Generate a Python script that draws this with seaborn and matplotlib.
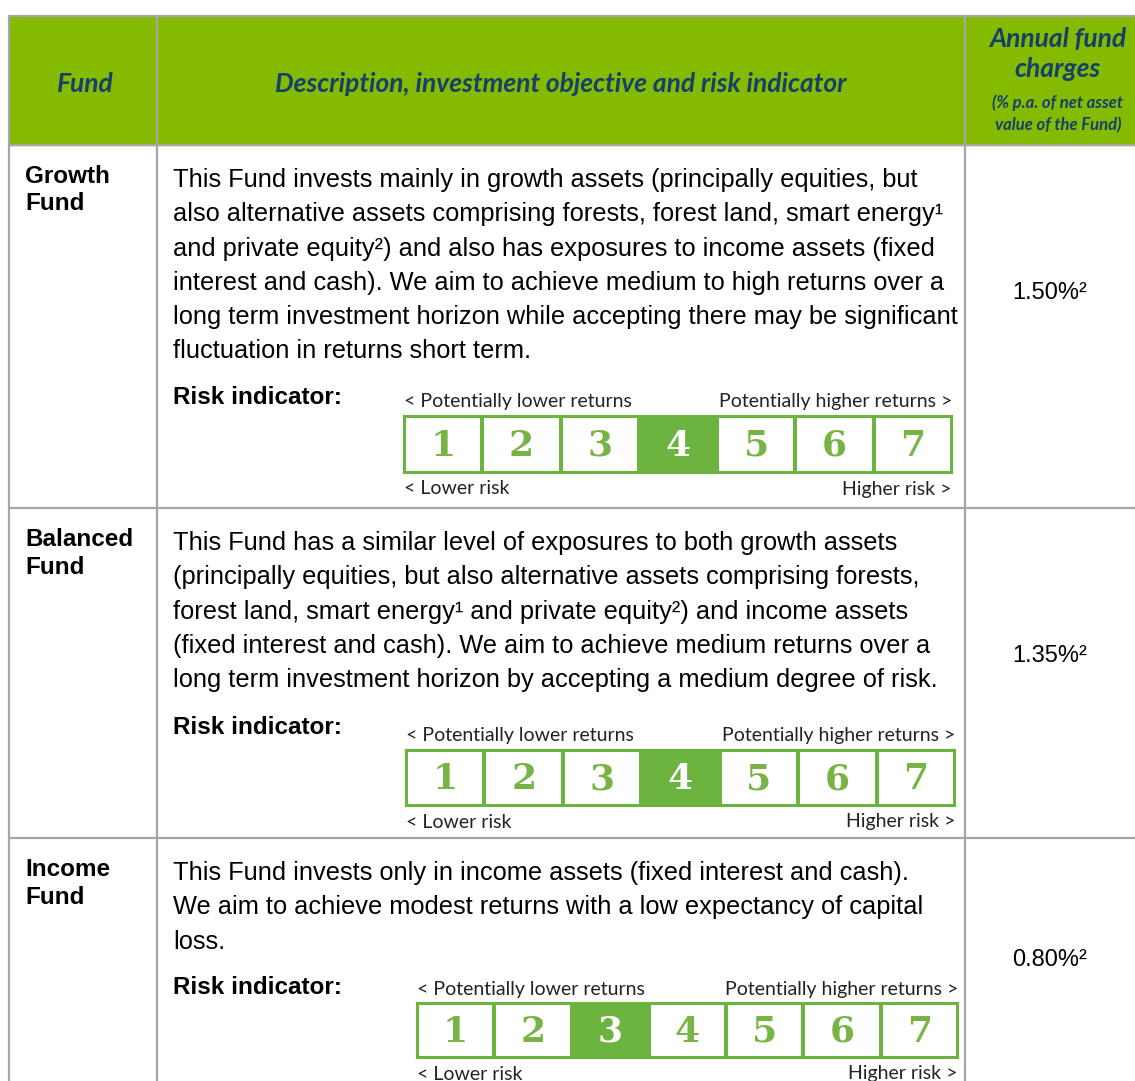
import numpy as np
import matplotlib
matplotlib.use("Agg")
import matplotlib.pyplot as plt
from matplotlib.colors import ListedColormap
import seaborn as sns

# 표 데이터
funds = ["Growth\nFund", "Balanced\nFund", "Income\nFund"]
descriptions = [
    ["This Fund invests mainly in growth assets (principally equities, but",
     "also alternative assets comprising forests, forest land, smart energy¹",
     "and private equity²) and also has exposures to income assets (fixed",
     "interest and cash). We aim to achieve medium to high returns over a",
     "long term investment horizon while accepting there may be significant",
     "fluctuation in returns short term."],
    ["This Fund has a similar level of exposures to both growth assets",
     "(principally equities, but also alternative assets comprising forests,",
     "forest land, smart energy¹ and private equity²) and income assets",
     "(fixed interest and cash). We aim to achieve medium returns over a",
     "long term investment horizon by accepting a medium degree of risk."],
    ["This Fund invests only in income assets (fixed interest and cash).",
     "We aim to achieve modest returns with a low expectancy of capital",
     "loss."],
]
charges = ["1.50%²", "1.35%²", "0.80%²"]
risk_levels = [4, 4, 3]
risk_scale = [1, 2, 3, 4, 5, 6, 7]

# 레이아웃 (픽셀)
W, H = 1135, 1081
row_tops = [145, 508, 838]
text_top = [180, 543, 873]
risk_label_y = [398, 727, 988]
charge_y = [293, 656, 960]
risk_box = [(404, 416, 548, 57), (406, 750, 549, 56), (417, 1003, 541, 55)]

green_head = "#84BA00"
navy = "#173F6B"
grid_col = "#A6A6A6"
risk_green = "#6CB33F"
num_green = "#78B445"

sns.set_theme(style="white")
plt.rcParams['font.family'] = ['Liberation Sans', 'DejaVu Sans']

fig = plt.figure(figsize=(W / 100, H / 100), dpi=100)
ax = fig.add_axes([0, 0, 1, 1])
ax.set_xlim(0, W)
ax.set_ylim(H, 0)
ax.axis('off')

# 헤더 배경
ax.add_patch(plt.Rectangle((9, 16), W - 9, 129, color=green_head, zorder=0))

# 격자선
for y in [16] + row_tops:
    ax.plot([9, W], [y, y], color=grid_col, lw=1.6, zorder=2)
for x in [9, 157, 965]:
    ax.plot([x, x], [16, H], color=grid_col, lw=1.6, zorder=2)

# 헤더 텍스트
hfont = dict(family=['Lato', 'DejaVu Sans'], style='italic', weight='bold', color=navy)
ax.text(85, 84, "Fund", ha='center', va='center', fontsize=19, **hfont)
ax.text(561, 84, "Description, investment objective and risk indicator",
        ha='center', va='center', fontsize=19, **hfont)
ax.text(1058, 39, "Annual fund", ha='center', va='center', fontsize=19, **hfont)
ax.text(1058, 69, "charges", ha='center', va='center', fontsize=19, **hfont)
ax.text(1058, 103, "(% p.a. of net asset", ha='center', va='center', fontsize=12, **hfont)
ax.text(1058, 125, "value of the Fund)", ha='center', va='center', fontsize=12, **hfont)

for i in range(3):
    # 펀드 이름
    ax.text(25, text_top[i] - 15, funds[i], ha='left', va='top', fontsize=17.5,
            weight='bold', color='black', linespacing=1.25)
    # 설명
    for j, line in enumerate(descriptions[i]):
        ax.text(173, text_top[i] + j * 34.3, line, ha='left', va='center',
                fontsize=18.3, color='black')
    ax.text(173, risk_label_y[i], "Risk indicator:", ha='left', va='center',
            fontsize=17.5, weight='bold', color='black')
    # 수수료
    ax.text(1050, charge_y[i], charges[i], ha='center', va='center',
            fontsize=17, color='black')

    # 위험 지표 (heatmap)
    bx, by, bw, bh = risk_box[i]
    rax = fig.add_axes([bx / W, 1 - (by + bh) / H, bw / W, bh / H])
    vals = np.array([[1 if r == risk_levels[i] else 0 for r in risk_scale]])
    sns.heatmap(vals, ax=rax, cmap=ListedColormap(["white", risk_green]), vmin=0, vmax=1,
                cbar=False, linewidths=1.5, linecolor=risk_green, xticklabels=False,
                yticklabels=False)
    for k, r in enumerate(risk_scale):
        rax.text(k + 0.5, 0.52, str(r), ha='center', va='center', fontsize=26,
                 weight='bold', family=['DejaVu Serif'],
                 color='white' if r == risk_levels[i] else num_green)
    for s in rax.spines.values():
        s.set_visible(True)
        s.set_color(risk_green)
        s.set_linewidth(1.5)

    lfont = dict(family=['Lato', 'DejaVu Sans'], fontsize=14, color='#222222', va='center')
    ax.text(bx, by - 14, "< Potentially lower returns", ha='left', **lfont)
    ax.text(bx + bw, by - 14, "Potentially higher returns >", ha='right', **lfont)
    ax.text(bx, by + bh + 16, "< Lower risk", ha='left', **lfont)
    ax.text(bx + bw, by + bh + 16, "Higher risk >", ha='right', **lfont)

fig.savefig("out.png", dpi=100)
